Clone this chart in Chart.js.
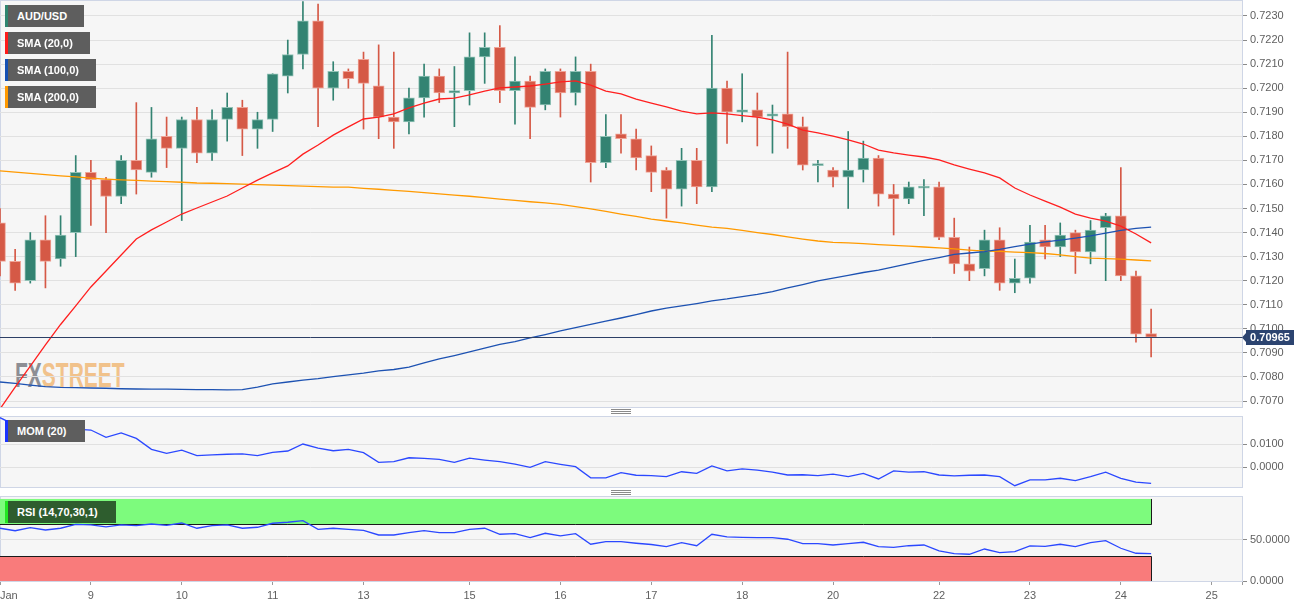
<!DOCTYPE html>
<html>
<head>
<meta charset="utf-8">
<script src="https://cdn.jsdelivr.net/npm/chart.js@4.4.0/dist/chart.umd.min.js"></script>
<style>
  html, body { margin: 0; padding: 0; background: #fff; }
  #wrap { position: relative; width: 1313px; height: 608px; overflow: hidden; font-family: "Liberation Sans", Arial, sans-serif; }
  .panel { position: absolute; left: 0; width: 1243px; background: #f6f6f6; border: 1px solid #cfd6e6; box-sizing: border-box; }
  canvas { position: absolute; left: 0; }
  .tag { position: absolute; left: 5px; height: 22px; line-height: 22px; color: #fff; font-size: 11px; font-weight: bold;
         padding-left: 9px; box-sizing: border-box; border-left: 3px solid; background: #5e5e5e; white-space: nowrap; }
  .handle { position: absolute; left: 611px; width: 20px; height: 5px;
            background: linear-gradient(#8a8a8a 1px, transparent 1px) 0 0 / 100% 2px; }
  #wm { position: absolute; left: 15px; top: 357px; font-size: 35px; line-height: 35px; font-weight: bold;
        transform: scaleX(0.6); transform-origin: 0 0; letter-spacing: 0; }
</style>
</head>
<body>
<div id="wrap">
  <div class="panel" style="top:0; height:408px;"></div>
  <div class="panel" style="top:416px; height:72px;"></div>
  <div class="panel" style="top:496px; height:86px;"></div>
  <div id="wm"><span style="color:#8d8e94">FX</span><span style="color:#f1c28b">STREET</span></div>

  <canvas id="cMain" width="1313" height="408" style="top:0"></canvas>
  <canvas id="cMom" width="1313" height="72" style="top:416px"></canvas>
  <canvas id="cRsi" width="1313" height="112" style="top:496px"></canvas>

  <div class="tag" style="top:5px; width:79px; border-color:#2f8570;">AUD/USD</div>
  <div class="tag" style="top:32px; width:85px; border-color:#ff1a1a;">SMA (20,0)</div>
  <div class="tag" style="top:59px; width:91px; border-color:#1450b4;">SMA (100,0)</div>
  <div class="tag" style="top:86px; width:91px; border-color:#ff9900;">SMA (200,0)</div>
  <div class="tag" style="top:420px; width:80px; border-color:#1a33ff;">MOM (20)</div>
  <div class="tag" style="top:501px; width:111px; border-color:#22e622; background:#2e5d2e;">RSI (14,70,30,1)</div>

  <div class="handle" style="top:409px"></div>
  <div class="handle" style="top:490px"></div>
</div>

<script>
// AUD/USD 4h candles, 8 Jan -> 24 Jan
const opens  = [0.7144,0.7128,0.7120,0.7137,0.7129,0.7140,0.7165,0.7162,0.7155,0.7170,
                0.7165,0.7180,0.7175,0.7187,0.7173,0.7187,0.7192,0.7183,0.7187,0.7205,
                0.7214,0.7228,0.7200,0.7207,0.7212,0.7201,0.7188,0.7186,0.7196,0.7205,
                0.7198,0.7199,0.7213,0.7217,0.7199,0.7203,0.7193,0.7207,0.7198,0.7207,
                0.7169,0.7181,0.7179,0.7172,0.7166,0.7158,0.7170,0.7159,0.7200,0.7190,
                0.7191,0.71884,0.71893,0.7184,0.71678,0.7166,0.7163,0.7166,0.7171,0.7156,
                0.7154,0.71585,0.7159,0.7138,0.7127,0.7125,0.7137,0.7119,0.7121,0.7137,
                0.7134,0.7140,0.7132,0.7142,0.7147,0.7122,0.70980];
const highs  = [0.7150,0.7133,0.7140,0.7147,0.7147,0.7172,0.7170,0.7163,0.7172,0.7194,
                0.7192,0.7188,0.7188,0.7192,0.7191,0.7198,0.7195,0.7190,0.7206,0.7220,
                0.7236,0.7235,0.7211,0.7208,0.7215,0.7218,0.7215,0.7200,0.7210,0.7208,
                0.7209,0.7223,0.7223,0.7226,0.7213,0.7205,0.7208,0.7208,0.7213,0.7210,
                0.7189,0.7189,0.7183,0.7176,0.7167,0.7175,0.7175,0.7222,0.7203,0.7206,
                0.7198,0.7193,0.7215,0.7188,0.7170,0.7167,0.7182,0.7178,0.7172,0.7160,
                0.7161,0.7162,0.7161,0.7146,0.7134,0.7141,0.7142,0.7129,0.7143,0.7143,
                0.7144,0.7141,0.7145,0.7148,0.7167,0.7124,0.71082];
const lows   = [0.7122,0.7116,0.7119,0.7117,0.7126,0.7130,0.7143,0.7140,0.7152,0.7156,
                0.7163,0.7167,0.7145,0.7169,0.7170,0.7178,0.7172,0.7175,0.7182,0.7198,
                0.7208,0.7184,0.7195,0.7200,0.7183,0.7179,0.7175,0.7181,0.7188,0.7194,
                0.7184,0.7193,0.7202,0.7194,0.7185,0.7179,0.7191,0.7188,0.7193,0.7161,
                0.7167,0.7173,0.7166,0.7157,0.7146,0.7151,0.7152,0.7157,0.7177,0.7186,
                0.7176,0.7173,0.7175,0.7166,0.7161,0.7159,0.7150,0.7161,0.7151,0.7139,
                0.7152,0.7147,0.7137,0.7123,0.7120,0.7122,0.7116,0.7115,0.7119,0.7129,
                0.7130,0.7123,0.7127,0.7120,0.7120,0.70945,0.70883];
const closes = [0.7128,0.7119,0.7137,0.7128,0.7139,0.7165,0.7162,0.7155,0.7170,0.7166,
                0.7179,0.7175,0.7187,0.7173,0.7187,0.7192,0.7183,0.7187,0.7206,0.7214,
                0.7228,0.7200,0.7207,0.7204,0.7202,0.7188,0.7186,0.7196,0.7205,0.7198,
                0.7199,0.7213,0.7217,0.7199,0.7203,0.7192,0.7207,0.7198,0.7207,0.7169,
                0.7180,0.7179,0.7171,0.7165,0.7158,0.7170,0.7159,0.7200,0.7190,0.7191,
                0.7188,0.71893,0.7184,0.7168,0.71682,0.7163,0.7166,0.7171,0.7156,0.7154,
                0.7159,0.7159,0.7138,0.7127,0.7124,0.7137,0.7119,0.7121,0.7136,0.7134,
                0.7139,0.7132,0.7141,0.7147,0.7122,0.70978,0.70965];

const sma20  = [0.70667,0.70758,0.70845,0.70933,0.71018,0.71095,0.71174,0.7124,0.71307,0.71373,
                0.71411,0.71444,0.71477,0.71502,0.71527,0.71552,0.71585,0.71618,0.71648,0.71677,
                0.71726,0.71764,0.71805,0.71839,0.71872,0.7188,0.71893,0.71918,0.71938,0.71955,
                0.71959,0.71972,0.71988,0.72001,0.72005,0.72009,0.72017,0.72026,0.7203,0.72013,
                0.71988,0.71976,0.71955,0.71938,0.71922,0.71905,0.71893,0.71897,0.71893,0.71886,
                0.7188,0.71868,0.71851,0.71826,0.71814,0.71801,0.71785,0.71768,0.71743,0.71731,
                0.71722,0.71714,0.71702,0.71681,0.71664,0.71648,0.71627,0.71585,0.71556,0.71531,
                0.71506,0.71477,0.7146,0.71448,0.71427,0.71394,0.71357];
const sma100 = [0.70779,0.70773,0.70766,0.7076,0.70757,0.70756,0.70754,0.70753,0.70751,0.7075,
                0.70749,0.70749,0.70748,0.70747,0.70747,0.70746,0.70747,0.70758,0.70771,0.70779,
                0.70787,0.70793,0.70801,0.70809,0.70816,0.70825,0.70831,0.70841,0.70858,0.70875,
                0.70889,0.70904,0.7092,0.70935,0.70947,0.70962,0.70976,0.70991,0.71005,0.71018,
                0.71032,0.71045,0.71059,0.71074,0.71086,0.71095,0.71105,0.71116,0.71124,0.71134,
                0.71143,0.71155,0.7117,0.71184,0.71199,0.71211,0.71222,0.71234,0.71244,0.71257,
                0.71271,0.71284,0.71296,0.71309,0.71315,0.71321,0.7133,0.71342,0.71352,0.71361,
                0.71369,0.71377,0.71386,0.71398,0.71409,0.71417,0.71423];
const sma200 = [0.71656,0.71651,0.71646,0.71641,0.71636,0.71631,0.71626,0.71622,0.71619,0.71617,
                0.71614,0.71612,0.71609,0.71606,0.71605,0.71603,0.71601,0.71599,0.71597,0.71595,
                0.71593,0.71591,0.71589,0.71589,0.71584,0.7158,0.71575,0.71571,0.71566,0.71561,
                0.71556,0.71551,0.71545,0.71539,0.71534,0.71528,0.71523,0.71517,0.71508,0.71498,
                0.71488,0.71477,0.71467,0.71456,0.71448,0.7144,0.71431,0.71423,0.71417,0.71409,
                0.714,0.71392,0.71382,0.71373,0.71365,0.71359,0.71357,0.71354,0.7135,0.71347,
                0.71344,0.7134,0.71336,0.71332,0.71327,0.71323,0.71322,0.71319,0.71317,0.71313,
                0.71307,0.713,0.71294,0.71292,0.7129,0.71286,0.71282];

const mom = [0.0213,0.0181,0.0174,0.0174,0.0160,0.0164,0.0160,0.0129,0.0148,0.0124,
             0.0077,0.0060,0.0074,0.0050,0.0053,0.0056,0.0058,0.0050,0.0064,0.0070,
             0.0100,0.0082,0.0071,0.0077,0.0063,0.0021,0.0024,0.0041,0.0038,0.0034,
             0.0021,0.0039,0.0031,0.0024,0.0014,0.0000,0.0024,0.0013,0.0003,-0.0045,
             -0.0045,-0.0023,-0.0034,-0.0036,-0.0040,-0.0019,-0.0026,0.0006,-0.0015,-0.0007,
             -0.0012,-0.0021,-0.0033,-0.0032,-0.0036,-0.0029,-0.0040,-0.0026,-0.0050,-0.0015,
             -0.0021,-0.0019,-0.0033,-0.0037,-0.0034,-0.0033,-0.0040,-0.0079,-0.0054,-0.0054,
             -0.0047,-0.0057,-0.0040,-0.0021,-0.0047,-0.0064,-0.0069];
const rsi = [64.3,61.3,65.0,62.2,64.3,69.1,68.3,65.9,68.3,67.4,
             69.5,67.9,70.7,64.3,67.4,68.3,64.3,65.5,70.4,71.6,
             73.5,63.0,64.3,63.0,61.8,56.1,56.1,58.9,61.3,58.9,
             58.9,63.0,64.3,57.0,57.7,52.8,58.2,54.9,57.7,44.8,
             47.9,47.9,46.0,44.5,41.8,46.7,43.0,57.0,53.7,53.3,
             52.8,52.8,50.9,45.5,45.5,43.9,45.5,47.2,41.8,41.1,
             43.0,43.9,36.6,33.3,32.6,39.0,34.5,35.7,42.7,42.3,
             44.8,41.8,46.7,49.1,39.9,33.8,33.3];

const priceTicks = [0.7070,0.7080,0.7090,0.7100,0.7110,0.7120,0.7130,0.7140,0.7150,
                    0.7160,0.7170,0.7180,0.7190,0.7200,0.7210,0.7220,0.7230];
const momTicks = [0, 0.01];
const rsiTicks = [0, 50];
const rsiLevels = [30, 70, 100];
// candle index where each day label sits
const dayTickIdx = [0, 6, 12, 18, 24, 31, 37, 43, 49, 55, 62, 68, 74, 80];
const dayTickLabels = ['Jan', '9', '10', '11', '13', '15', '16', '17', '18', '20', '22', '23', '24', '25'];

const FONT = '"Liberation Sans", Arial, sans-serif';
Chart.defaults.font.family = FONT;
const X_MAX = 82;
const N = closes.length;
const UP = '#338372', DOWN = '#d55946';
const UP_EDGE = '#92c3b7', DOWN_EDGE = '#efa497';

const idx = closes.map((_, i) => i);
const pts = arr => arr.map((v, i) => ({ x: i, y: v }));
const up = idx.map(i => closes[i] >= opens[i]);

function yAxis(min, max, ticks) {
    return {
        position: 'right', min: min, max: max,
        afterBuildTicks: s => { s.ticks = ticks.map(v => ({ value: v })); },
        afterFit: s => { s.width = 71; s.paddingTop = 0; s.paddingBottom = 0; },
        grid: { color: '#e1e1e1', tickColor: '#8a8a8a', tickLength: 5 },
        border: { color: '#cfd6e6' },
        ticks: { autoSkip: false, padding: 3, color: '#5f5f5f', font: { size: 11 }, callback: v => v.toFixed(4) }
    };
}

function xAxis(show) {
    const ax = { type: 'linear', min: 0, max: X_MAX, offset: false, display: show };
    if (show) {
        ax.afterBuildTicks = s => { s.ticks = dayTickIdx.map(v => ({ value: v })).concat([{ value: X_MAX }]); };
        ax.afterFit = s => { s.height = 27; s.paddingLeft = 0; s.paddingRight = 0; };
        ax.grid = { drawOnChartArea: false, tickLength: 4, tickColor: '#9a9a9a' };
        ax.border = { color: '#cfd6e6' };
        ax.ticks = {
            autoSkip: false, maxRotation: 0, align: 'inner', padding: 4, color: '#5f5f5f', font: { size: 11 },
            callback: v => { const k = dayTickIdx.indexOf(v); return k >= 0 ? dayTickLabels[k] : ''; }
        };
    }
    return ax;
}

const baseOpts = (pad) => ({
    responsive: false, animation: false, events: [],
    layout: { padding: pad },
    plugins: { legend: { display: false }, tooltip: { enabled: false } }
});

const lastPrice = {
    id: 'lastPrice',
    afterDatasetsDraw(chart) {
        const { ctx, chartArea: a, scales: { y } } = chart;
        const py = Math.round(y.getPixelForValue(closes[N - 1])) + 0.5;
        ctx.save();
        ctx.strokeStyle = '#2d3f66';
        ctx.lineWidth = 1;
        ctx.beginPath(); ctx.moveTo(a.left, py); ctx.lineTo(a.right, py); ctx.stroke();
        ctx.restore();
    },
    afterDraw(chart) {
        const { ctx, chartArea: a, scales: { y } } = chart;
        const py = Math.round(y.getPixelForValue(closes[N - 1]));
        const x0 = a.right + 4;
        ctx.save();
        ctx.fillStyle = '#2c4470';
        ctx.beginPath(); ctx.moveTo(a.right, py + 0.5); ctx.lineTo(x0, py - 4); ctx.lineTo(x0, py + 5); ctx.fill();
        ctx.fillRect(x0, py - 7, 48, 15);
        ctx.fillStyle = '#fff';
        ctx.font = 'bold 11px ' + FONT;
        ctx.textAlign = 'center';
        ctx.textBaseline = 'middle';
        ctx.fillText(closes[N - 1].toFixed(5), x0 + 24, py + 1);
        ctx.restore();
    }
};

const rsiBands = {
    id: 'rsiBands',
    beforeDatasetsDraw(chart) {
        const { ctx, scales: { x, y } } = chart;
        const x0 = x.left, x1 = Math.round(x.getPixelForValue(N - 1)) + 0.5;
        const yTop = y.getPixelForValue(rsiLevels[2]);
        const yHi = Math.round(y.getPixelForValue(rsiLevels[1])) + 0.5;
        const yLo = Math.round(y.getPixelForValue(rsiLevels[0])) + 0.5;
        const yBot = y.getPixelForValue(0);
        ctx.save();
        ctx.fillStyle = '#7dfb7d';
        ctx.fillRect(x0, yTop, x1 - x0, yHi - yTop);
        ctx.fillStyle = '#f97b7b';
        ctx.fillRect(x0, yLo, x1 - x0, yBot - yLo);
        ctx.strokeStyle = '#1a1a1a';
        ctx.lineWidth = 1;
        ctx.beginPath();
        ctx.moveTo(x0, yHi); ctx.lineTo(x1, yHi); ctx.lineTo(x1, yTop);
        ctx.moveTo(x0, yLo); ctx.lineTo(x1, yLo); ctx.lineTo(x1, yBot);
        ctx.stroke();
        ctx.restore();
    }
};

const line = (data, color, order) => ({
    type: 'line', data: pts(data), borderColor: color, borderWidth: 1.3,
    pointRadius: 0, tension: 0, order: order
});

new Chart(document.getElementById('cMain'), {
    type: 'bar',
    data: {
        datasets: [
            line(sma20, '#ff1f1f', 0),
            line(sma100, '#1d52b2', 0),
            line(sma200, '#ff9a00', 0),
            {
                type: 'bar', order: 1, grouped: false,
                data: idx.map(i => ({ x: i, y: [opens[i], closes[i]] })),
                backgroundColor: idx.map(i => up[i] ? UP : DOWN),
                borderColor: idx.map(i => up[i] ? UP_EDGE : DOWN_EDGE),
                borderWidth: 1, borderSkipped: false, barThickness: 11, minBarLength: 2
            },
            {
                type: 'bar', order: 2, grouped: false,
                data: idx.map(i => ({ x: i, y: [lows[i], highs[i]] })),
                backgroundColor: idx.map(i => up[i] ? UP : DOWN),
                borderWidth: 0, barThickness: 1
            }
        ]
    },
    options: Object.assign(baseOpts({ top: 1, bottom: 1, left: 0, right: 0 }), {
        scales: { x: xAxis(false), y: yAxis(0.706751, 0.723623, priceTicks) }
    }),
    plugins: [lastPrice]
});

new Chart(document.getElementById('cMom'), {
    type: 'line',
    data: { datasets: [line(mom, '#2b48ff', 0)] },
    options: Object.assign(baseOpts({ top: 1, bottom: 1, left: 0, right: 0 }), {
        scales: { x: xAxis(false), y: yAxis(-0.00845, 0.02159, momTicks) }
    })
});

new Chart(document.getElementById('cRsi'), {
    type: 'line',
    data: { datasets: [line(rsi, '#2b48ff', 0)] },
    options: Object.assign(baseOpts({ top: 1, bottom: 0, left: 0, right: 0 }), {
        scales: { x: xAxis(true), y: yAxis(0, 102.4, rsiTicks) }
    }),
    plugins: [rsiBands]
});
</script>
</body>
</html>
